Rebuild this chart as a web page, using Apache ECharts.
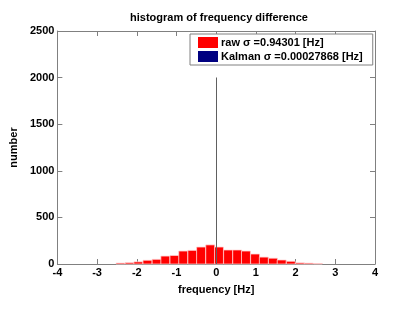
<!DOCTYPE html>
<html><head><meta charset="utf-8">
<script src="https://cdn.jsdelivr.net/npm/echarts@6/dist/echarts.min.js"></script>
<style>html,body{margin:0;padding:0;background:#fff}#c{width:415px;height:312px}</style>
</head><body><div id="c"></div>
<script>
const rawCenters = [-2.41,-2.18,-1.96,-1.73,-1.50,-1.28,-1.05,-0.83,-0.60,-0.38,-0.15,0.07,0.30,0.53,0.75,0.98,1.20,1.43,1.65,1.88,2.11,2.33,2.56];
const rawCounts  = [10,14,23,40,50,85,91,139,146,182,205,182,150,150,139,107,74,62,43,29,12,9,4];
const rawBinWidth = 0.2256;
const kalmanCenters = [0.0];
const kalmanCounts = [2000];
const xTicks = [-4,-3,-2,-1,0,1,2,3,4];
const yTicks = [0,500,1000,1500,2000,2500];
const rawName = 'raw \u03c3 =0.94301 [Hz]';
const kalName = 'Kalman \u03c3 =0.00027868 [Hz]';

const font = '"Liberation Sans", Arial, sans-serif';
const axisGray = '#808080';
const chart = echarts.init(document.getElementById('c'), null, {renderer:'canvas'});

function barRender(params, api){
  const c = api.value(0), h = api.value(1);
  const p0 = api.coord([c - rawBinWidth/2, h]);
  const p1 = api.coord([c + rawBinWidth/2, 0]);
  return {type:'rect', shape:{x:p0[0], y:p0[1], width:p1[0]-p0[0], height:p1[1]-p0[1]},
    style:{fill:'#ff0000', stroke:'rgba(255,210,210,0.9)', lineWidth:0.8}};
}
function kalRender(params, api){
  const c = api.value(0), h = api.value(1);
  const p0 = api.coord([c, h]);
  const p1 = api.coord([c, 0]);
  return {type:'rect', shape:{x:Math.round(p0[0]), y:p0[1], width:1, height:p1[1]-p0[1]},
    style:{fill:'#606060'}};
}
const axisCommon = {
  axisLine:{show:true, onZero:false, lineStyle:{color:axisGray, width:1}},
  axisTick:{show:true, inside:true, length:5, lineStyle:{color:axisGray}},
  splitLine:{show:false},
};
const labelStyle = {fontFamily:font, fontWeight:'bold', fontSize:11, color:'#000', margin:3};
chart.setOption({
  animation:false,
  backgroundColor:'#fff',
  title:{text:'histogram of frequency difference', left:214, top:7, textAlign:'center',
    textStyle:{fontFamily:font, fontWeight:'bold', fontSize:11, color:'#000'}},
  legend:{orient:'vertical', left:190, top:34, padding:[3,10,3,8], itemGap:3,
    itemWidth:20, itemHeight:11, borderColor:axisGray, borderWidth:1, backgroundColor:'#fff',
    textStyle:{fontFamily:font, fontWeight:'bold', fontSize:11, color:'#000', padding:[0,0,0,-2]},
    data:[{name:rawName, icon:'rect'},{name:kalName, icon:'rect'}]},
  grid:{left:54, right:40, top:31, bottom:48},
  xAxis:[
    Object.assign({type:'value', min:xTicks[0], max:xTicks[xTicks.length-1], interval:1, position:'bottom',
      name:'frequency [Hz]', nameLocation:'middle', nameGap:20,
      nameTextStyle:{fontFamily:font, fontWeight:'bold', fontSize:11, color:'#000'},
      axisLabel:Object.assign({formatter:v=>String(v)}, labelStyle)}, axisCommon),
    Object.assign({type:'value', min:xTicks[0], max:xTicks[xTicks.length-1], interval:1, position:'top',
      axisLabel:{show:false}}, axisCommon)
  ],
  yAxis:[
    Object.assign({type:'value', min:yTicks[0], max:yTicks[yTicks.length-1], interval:500, position:'left',
      name:'number', nameLocation:'middle', nameGap:35,
      nameTextStyle:{fontFamily:font, fontWeight:'bold', fontSize:11, color:'#000'},
      axisLabel:Object.assign({formatter:v=>String(v)}, labelStyle)}, axisCommon),
    Object.assign({type:'value', min:yTicks[0], max:yTicks[yTicks.length-1], interval:500, position:'right',
      axisLabel:{show:false}}, axisCommon)
  ],
  series:[
    {name:rawName, type:'custom', renderItem:barRender, itemStyle:{color:'#ff0000'},
      data:rawCenters.map((c,i)=>[c, rawCounts[i]]), encode:{x:0, y:1}, z:2},
    {name:kalName, type:'custom', renderItem:kalRender, itemStyle:{color:'#000080'},
      data:kalmanCenters.map((c,i)=>[c, kalmanCounts[i]]), encode:{x:0, y:1}, z:3}
  ]
});
</script></body></html>
